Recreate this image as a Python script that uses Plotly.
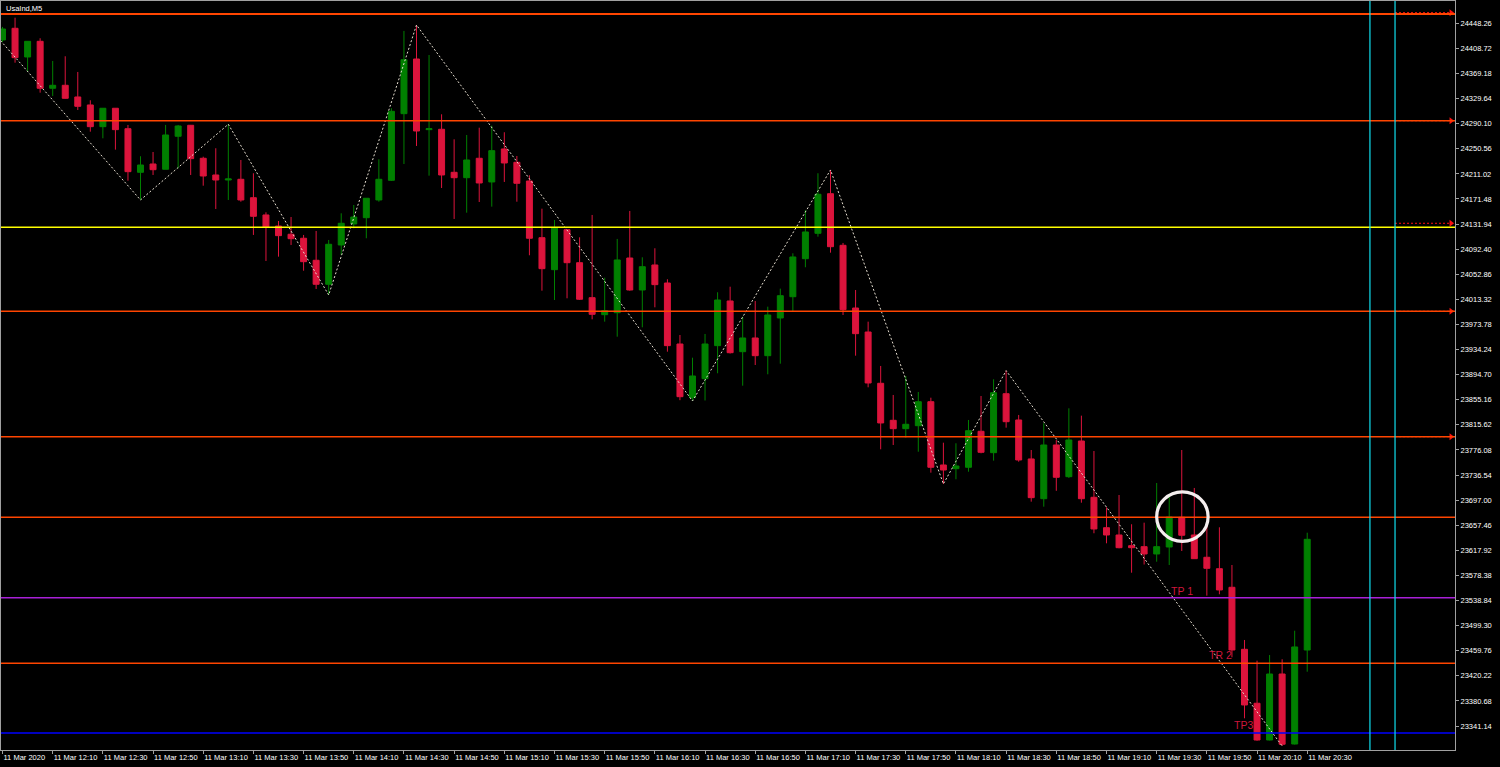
import pandas as pd
import plotly.graph_objects as go

symbol_title = "UsaInd,M5"

bar_times = pd.date_range("2020-03-11 11:50", periods=105, freq="5min")

opens = [24422.0, 24440.4, 24395.2, 24419.9, 24345.9, 24350.6, 24332.2, 24319.6, 24285.4, 24314.4,
         24282.2, 24213.5, 24226.6, 24218.3, 24270.3, 24287.6, 24235.6, 24209.3, 24201.4, 24202.5,
         24173.5, 24146.3, 24128.9, 24115.9, 24109.6, 24074.9, 24037.1, 24099.0, 24132.1, 24142.0,
         24169.9, 24200.9, 24305.9, 24392.0, 24280.7, 24281.3, 24213.5, 24205.0, 24235.6, 24198.3,
         24250.3, 24229.3, 24199.8, 24110.5, 24060.1, 24123.1, 24071.1, 24016.0, 23989.2, 23992.3,
         24078.5, 24028.1, 24067.5, 24039.1, 23943.0, 23858.4, 23888.4, 23940.4, 24010.8, 23930.9,
         23952.5, 23924.6, 23984.0, 24017.5, 24077.4, 24117.4, 24179.8, 24098.5, 23999.7, 23961.9,
         23881.1, 23822.8, 23809.6, 23814.3, 23852.1, 23752.4, 23746.6, 23748.8, 23805.5, 23771.8,
         23864.7, 23823.3, 23761.9, 23699.3, 23783.9, 23734.0, 23790.2, 23701.5, 23653.6, 23642.1,
         23625.3, 23623.7, 23612.2, 23623.2, 23670.0, 23642.1, 23607.0, 23589.0, 23559.7, 23462.0,
         23377.0, 23319.1, 23423.1, 23312.8, 23460.9]
highs = [24442.5, 24457.1, 24419.9, 24424.7, 24388.9, 24396.3, 24371.6, 24327.0, 24314.4, 24314.4,
         24288.1, 24238.8, 24245.5, 24288.1, 24288.1, 24288.1, 24238.1, 24251.4, 24289.2, 24232.9,
         24212.0, 24150.5, 24136.8, 24143.1, 24114.8, 24121.1, 24106.9, 24148.9, 24162.0, 24172.6,
         24234.0, 24314.4, 24436.2, 24445.6, 24398.3, 24304.9, 24265.5, 24272.3, 24283.8, 24287.0,
         24276.6, 24239.2, 24208.8, 24156.2, 24138.4, 24123.1, 24111.1, 24146.3, 24047.5, 24108.5,
         24152.6, 24079.6, 24093.8, 24045.0, 23957.2, 23921.4, 23958.8, 24024.5, 24033.3, 23986.0,
         24010.8, 24001.8, 24030.2, 24085.9, 24154.1, 24212.0, 24217.2, 24102.2, 24028.1, 23978.2,
         23908.4, 23862.7, 23892.6, 23867.4, 23858.4, 23787.5, 23786.6, 23823.3, 23861.1, 23887.4,
         23901.0, 23831.2, 23776.0, 23818.1, 23791.8, 23841.7, 23830.1, 23774.4, 23685.7, 23705.1,
         23659.0, 23661.5, 23724.0, 23702.0, 23776.0, 23716.2, 23662.6, 23654.2, 23594.8, 23476.7,
         23444.1, 23453.0, 23446.3, 23491.3, 23645.7]
lows = [24418.8, 24386.2, 24372.0, 24339.0, 24333.8, 24329.5, 24311.7, 24277.5, 24267.1, 24249.2,
        24200.3, 24169.9, 24209.3, 24218.3, 24219.8, 24209.3, 24192.4, 24155.7, 24169.9, 24167.2,
        24114.8, 24073.8, 24080.6, 24099.0, 24058.5, 24029.7, 24020.2, 24083.2, 24125.3, 24109.6,
        24167.2, 24199.8, 24226.6, 24255.0, 24208.2, 24188.8, 24140.0, 24149.9, 24166.7, 24159.4,
        24198.3, 24167.2, 24082.8, 24027.0, 24012.3, 24015.0, 24012.3, 23981.9, 23978.2, 23954.5,
        24027.0, 23969.3, 24000.8, 23930.9, 23854.5, 23853.2, 23854.0, 23896.9, 23928.0, 23877.3,
        23909.9, 23895.3, 23912.0, 23993.9, 24063.9, 24112.1, 24086.9, 23988.7, 23924.6, 23874.8,
        23777.1, 23783.9, 23795.4, 23773.3, 23740.3, 23722.5, 23729.9, 23741.8, 23770.8, 23759.2,
        23811.2, 23757.6, 23694.6, 23686.7, 23711.7, 23732.0, 23693.0, 23644.8, 23629.0, 23621.1,
        23582.7, 23595.6, 23600.0, 23594.8, 23616.9, 23604.8, 23546.5, 23548.7, 23449.4, 23353.3,
        23318.0, 23318.5, 23309.7, 23312.0, 23426.7]
closes = [24439.3, 24394.1, 24419.9, 24345.9, 24350.6, 24330.1, 24317.5, 24285.4, 24314.4, 24280.7,
          24214.5, 24225.0, 24217.6, 24272.3, 24286.5, 24235.0, 24207.7, 24201.4, 24203.0, 24169.9,
          24144.2, 24127.4, 24113.7, 24108.9, 24072.7, 24037.1, 24100.1, 24133.2, 24143.1, 24172.6,
          24202.5, 24309.6, 24390.9, 24278.6, 24282.2, 24209.3, 24205.0, 24232.9, 24196.7, 24247.6,
          24228.2, 24196.2, 24109.6, 24061.7, 24126.3, 24071.1, 24013.5, 23989.8, 23995.5, 24075.4,
          24028.1, 24064.8, 24036.5, 23940.4, 23860.0, 23892.6, 23943.0, 24012.3, 23929.3, 23952.5,
          23924.6, 23988.7, 24019.1, 24080.1, 24119.5, 24178.9, 24096.3, 23997.1, 23959.3, 23881.6,
          23818.6, 23809.6, 23816.5, 23852.1, 23748.8, 23744.5, 23750.8, 23806.4, 23772.4, 23866.3,
          23820.6, 23760.3, 23700.9, 23783.9, 23733.0, 23791.8, 23699.3, 23651.6, 23642.1, 23622.1,
          23622.1, 23612.2, 23623.7, 23670.5, 23641.7, 23604.8, 23589.6, 23555.5, 23460.9, 23374.3,
          23319.1, 23423.1, 23312.4, 23465.7, 23635.3]

zigzag_times = ["2020-03-11 11:45", "2020-03-11 12:45", "2020-03-11 13:20", "2020-03-11 14:00",
                "2020-03-11 14:35", "2020-03-11 16:25", "2020-03-11 17:20", "2020-03-11 18:05",
                "2020-03-11 18:30", "2020-03-11 20:20"]
zigzag_prices = [24439.9, 24169.9, 24289.2, 24020.2, 24445.6, 23853.2, 24217.2, 23722.5, 23901.0, 23309.7]

orange_levels = [24462.9, 24294.8, 23994.5, 23797.0, 23670.0, 23440.0]
orange_widths = [2, 1.5, 1.5, 1.5, 1.5, 1.5]
yellow_level = 24126.9
purple_level = 23543.3
blue_level = 23330.2
alert_levels = [24465.0, 24294.8, 24133.2, 23994.5, 23797.0]
alert_start = "2020-03-11 21:05"
alert_end = "2020-03-11 21:27:20"
vline_times = ["2020-03-11 20:55", "2020-03-11 21:05"]

tp_labels = ["TP 1", "TR 2", "TP3"]
tp_label_times = ["2020-03-11 19:35", "2020-03-11 19:50", "2020-03-11 20:00"]
tp_label_prices = [23553.9, 23453.1, 23342.8]

circle_times = ["2020-03-11 19:30:00", "2020-03-11 19:50:30"]
circle_prices = [23632.0, 23709.9]

y_tick_values = [24448.26, 24408.72, 24369.18, 24329.64, 24290.10, 24250.56, 24211.02, 24171.48,
                 24131.94, 24092.40, 24052.86, 24013.32, 23973.78, 23934.24, 23894.70, 23855.16,
                 23815.62, 23776.08, 23736.54, 23697.00, 23657.46, 23617.92, 23578.38, 23538.84,
                 23499.30, 23459.76, 23420.22, 23380.68, 23341.14]
x_tick_times = ["2020-03-11 11:50", "2020-03-11 12:10", "2020-03-11 12:30", "2020-03-11 12:50",
                "2020-03-11 13:10", "2020-03-11 13:30", "2020-03-11 13:50", "2020-03-11 14:10",
                "2020-03-11 14:30", "2020-03-11 14:50", "2020-03-11 15:10", "2020-03-11 15:30",
                "2020-03-11 15:50", "2020-03-11 16:10", "2020-03-11 16:30", "2020-03-11 16:50",
                "2020-03-11 17:10", "2020-03-11 17:30", "2020-03-11 17:50", "2020-03-11 18:10",
                "2020-03-11 18:30", "2020-03-11 18:50", "2020-03-11 19:10", "2020-03-11 19:30",
                "2020-03-11 19:50", "2020-03-11 20:10", "2020-03-11 20:30"]
x_tick_labels = ["11 Mar 2020", "11 Mar 12:10", "11 Mar 12:30", "11 Mar 12:50", "11 Mar 13:10",
                 "11 Mar 13:30", "11 Mar 13:50", "11 Mar 14:10", "11 Mar 14:30", "11 Mar 14:50",
                 "11 Mar 15:10", "11 Mar 15:30", "11 Mar 15:50", "11 Mar 16:10", "11 Mar 16:30",
                 "11 Mar 16:50", "11 Mar 17:10", "11 Mar 17:30", "11 Mar 17:50", "11 Mar 18:10",
                 "11 Mar 18:30", "11 Mar 18:50", "11 Mar 19:10", "11 Mar 19:30", "11 Mar 19:50",
                 "11 Mar 20:10", "11 Mar 20:30"]

x_range = ["2020-03-11 11:49:24", "2020-03-11 21:28:54"]
y_range = [23303.36, 24483.39]

FONT = "Liberation Sans, Arial, sans-serif"
GREEN = "#008000"
RED = "#dc143c"

fig = go.Figure()

fig.add_trace(go.Candlestick(
    x=bar_times, open=opens, high=highs, low=lows, close=closes,
    increasing=dict(line=dict(color=GREEN, width=1), fillcolor=GREEN),
    decreasing=dict(line=dict(color=RED, width=1), fillcolor=RED),
    whiskerwidth=0, hoverinfo="skip", showlegend=False,
))

fig.add_trace(go.Scatter(
    x=zigzag_times, y=zigzag_prices, mode="lines",
    line=dict(color="#e6ded0", width=1, dash="2px,2px"),
    hoverinfo="skip", showlegend=False,
))

# horizontal levels
for lvl, w in zip(orange_levels, orange_widths):
    fig.add_shape(type="line", xref="paper", x0=0, x1=1, yref="y", y0=lvl, y1=lvl,
                  line=dict(color="#ff4500", width=w), layer="above")
fig.add_shape(type="line", xref="paper", x0=0, x1=1, yref="y", y0=yellow_level, y1=yellow_level,
              line=dict(color="#ffff00", width=1.5), layer="above")
fig.add_shape(type="line", xref="paper", x0=0, x1=1, yref="y", y0=purple_level, y1=purple_level,
              line=dict(color="#a820d8", width=1.5), layer="above")
fig.add_shape(type="line", xref="paper", x0=0, x1=1, yref="y", y0=blue_level, y1=blue_level,
              line=dict(color="#0000ff", width=1.5), layer="above")

for t in vline_times:
    fig.add_shape(type="line", xref="x", x0=t, x1=t, yref="paper", y0=0, y1=1,
                  line=dict(color="#10e0f0", width=1.2), layer="above")

# alert arrows
ax, ay = [], []
for lvl in alert_levels:
    ax += [alert_start, alert_end, None]
    ay += [lvl, lvl, None]
fig.add_trace(go.Scatter(x=ax, y=ay, mode="lines",
                         line=dict(color="#ff1010", width=1, dash="2px,2px"),
                         hoverinfo="skip", showlegend=False))
fig.add_trace(go.Scatter(x=[alert_end] * len(alert_levels), y=alert_levels, mode="markers",
                         marker=dict(symbol="triangle-right", size=6, color="#ff1010"),
                         hoverinfo="skip", showlegend=False, cliponaxis=False))

# circle
fig.add_shape(type="circle", xref="x", yref="y",
              x0=circle_times[0], x1=circle_times[1], y0=circle_prices[0], y1=circle_prices[1],
              line=dict(color="#f4eeee", width=3.2), layer="above")

# TP labels
for txt, t, p in zip(tp_labels, tp_label_times, tp_label_prices):
    fig.add_annotation(x=t, y=p, text=txt, showarrow=False, xanchor="left", yanchor="middle",
                       font=dict(family=FONT, size=10.5, color="#d0163c"))

fig.add_annotation(xref="paper", yref="paper", x=0, y=1, xanchor="left", yanchor="top",
                   xshift=3, yshift=-1, text=symbol_title, showarrow=False,
                   font=dict(family=FONT, size=7.5, color="#ffffff"))

fig.update_layout(
    width=1500, height=767,
    margin=dict(l=1, r=45, t=1, b=17, autoexpand=False),
    paper_bgcolor="#000000", plot_bgcolor="#000000",
    font=dict(family=FONT, size=7.5, color="#ffffff"),
    showlegend=False, boxgap=0.32,
    xaxis=dict(
        type="date", range=x_range, rangeslider=dict(visible=False),
        tickmode="array", tickvals=x_tick_times, ticktext=x_tick_labels,
        tickangle=0, automargin=False,
        ticks="outside", ticklen=3, tickcolor="#a0a0a0",
        ticklabelposition="outside right",
        showgrid=False, zeroline=False,
        showline=True, linecolor="#a0a0a0", linewidth=1, mirror=True,
        tickfont=dict(family=FONT, size=7.5, color="#ffffff"),
    ),
    yaxis=dict(
        side="right", range=y_range, automargin=False,
        tickmode="array", tickvals=y_tick_values, tickformat=".2f",
        ticks="outside", ticklen=3, tickcolor="#a0a0a0",
        showgrid=False, zeroline=False,
        showline=True, linecolor="#a0a0a0", linewidth=1, mirror=True,
        tickfont=dict(family=FONT, size=7.5, color="#ffffff"),
    ),
)

fig.write_html("out.html", config={"displayModeBar": False},
               post_script="document.body.style.margin='0';")
